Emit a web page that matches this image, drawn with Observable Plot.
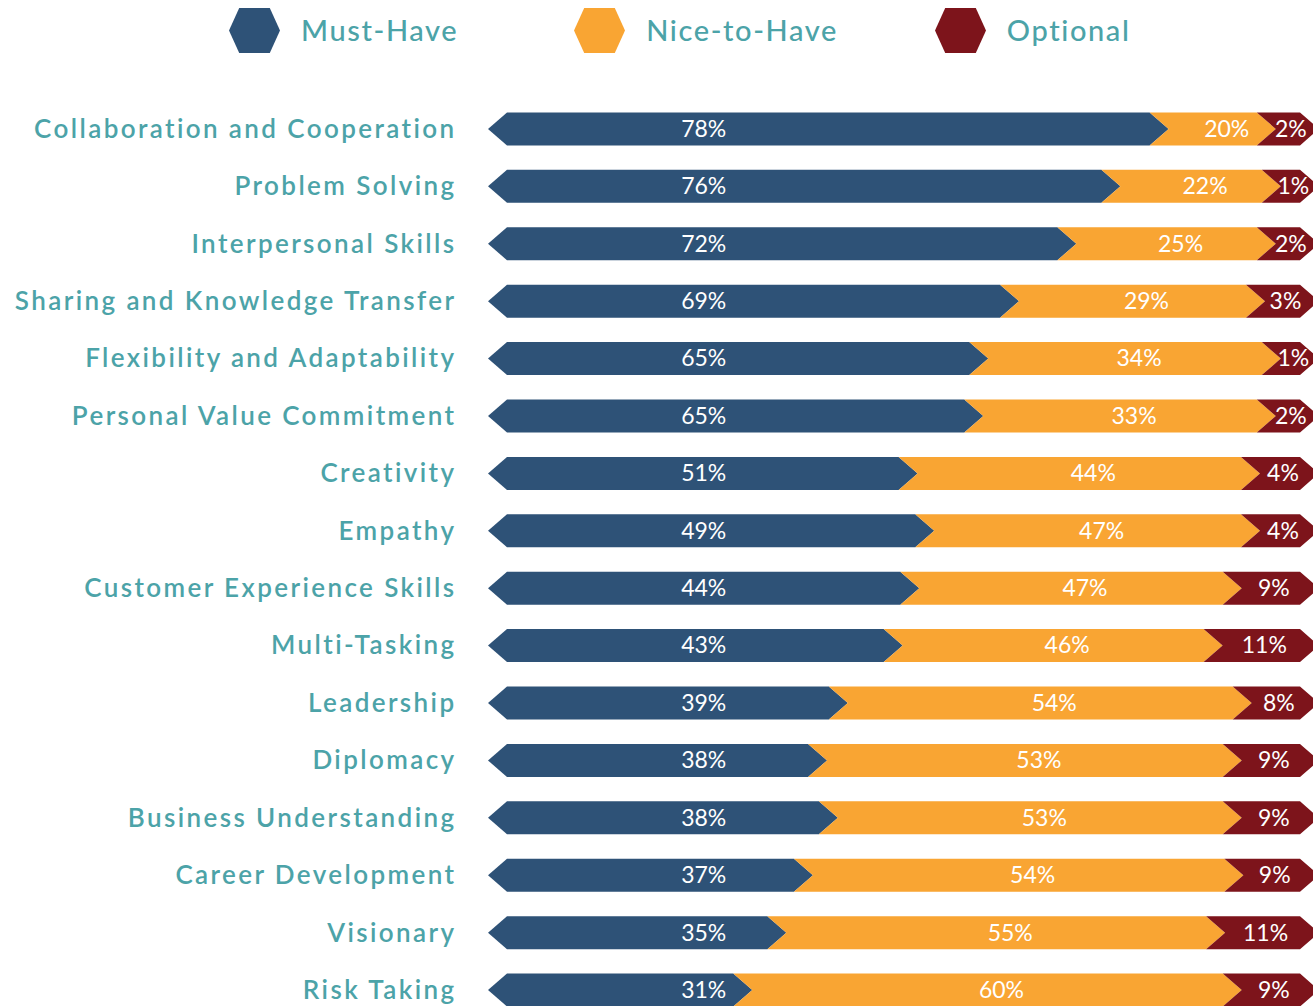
<!DOCTYPE html>
<html>
<head>
<meta charset="utf-8">
<script src="https://cdn.jsdelivr.net/npm/d3@7"></script>
<script src="https://cdn.jsdelivr.net/npm/@observablehq/plot@0.6"></script>
<style>
  html, body { margin: 0; padding: 0; background: #ffffff; }
  body { width: 1313px; overflow: hidden; font-family: Lato, "Noto Sans", sans-serif; }
  #legend { height: 60px; display: flex; align-items: center; padding-left: 229px; box-sizing: border-box; }
  .item { display: flex; align-items: center; }
  .item:nth-child(1) { margin-right: 116px; }
  .item:nth-child(2) { margin-right: 97px; }
  .item svg { display: block; }
  .item span { margin-left: 21px; font-size: 29px; line-height: 1; color: #4ca3a8; letter-spacing: 1.6px; font-weight: 500; position: relative; top: -1px; }
  #chart svg { display: block; }
</style>
</head>
<body>
<div id="legend"></div>
<div id="chart"></div>
<script>
// ---- data ----
const skills = [
  "Collaboration and Cooperation", "Problem Solving", "Interpersonal Skills",
  "Sharing and Knowledge Transfer", "Flexibility and Adaptability", "Personal Value Commitment",
  "Creativity", "Empathy", "Customer Experience Skills", "Multi-Tasking", "Leadership",
  "Diplomacy", "Business Understanding", "Career Development", "Visionary", "Risk Taking"
];
// printed percentages
const mustHave   = [78, 76, 72, 69, 65, 65, 51, 49, 44, 43, 39, 38, 38, 37, 35, 31];
const niceToHave = [20, 22, 25, 29, 34, 33, 44, 47, 47, 46, 54, 53, 53, 54, 55, 60];
const optional   = [2, 1, 2, 3, 1, 2, 4, 4, 9, 11, 8, 9, 9, 9, 11, 9];
// segment boundaries as drawn in the picture (0–100 axis)
const mustHaveEnd   = [81.9, 76.1, 70.8, 63.9, 60.2, 59.6, 51.7, 53.7, 51.9, 49.9, 43.3, 40.8, 42.1, 39.1, 35.9, 31.8];
const niceToHaveEnd = [94.8, 95.4, 94.8, 93.5, 95.4, 94.8, 92.9, 92.9, 90.7, 88.4, 91.9, 90.7, 90.7, 90.9, 88.7, 90.7];
const seriesNames  = ["Must-Have", "Nice-to-Have", "Optional"];
const seriesColors = ["#2e5277", "#f9a533", "#7d141b"];

// ---- legend ----
const legend = d3.select("#legend");
seriesNames.forEach((name, i) => {
  const item = legend.append("div").attr("class", "item");
  const w = 51, h = 45;
  item.append("svg").attr("width", w).attr("height", h)
    .append("polygon")
    .attr("points", [[w * 0.2, 0], [w * 0.8, 0], [w, h / 2], [w * 0.8, h], [w * 0.2, h], [0, h / 2]].join(" "))
    .attr("fill", seriesColors[i]);
  item.append("span").text(name);
});

// ---- segments table ----
const segments = [];
skills.forEach((skill, i) => {
  segments.push({skill, series: 0, x0: 0, x1: mustHaveEnd[i], label: mustHave[i] + "%"});
  segments.push({skill, series: 1, x0: mustHaveEnd[i], x1: niceToHaveEnd[i], label: niceToHave[i] + "%"});
  segments.push({skill, series: 2, x0: niceToHaveEnd[i], x1: 100, label: optional[i] + "%"});
});

const D = 19; // arrow depth in px

function chevrons(a, b) {
  const sc = (b && typeof b.x === "function") ? b : a;
  const x = sc.x, y = sc.y;
  let bw = typeof y.bandwidth === "function" ? y.bandwidth() : (sc.scales && sc.scales.y ? sc.scales.y.bandwidth : 0);
  const g = d3.create("svg:g").attr("aria-label", "chevron bars");
  for (const s of segments) {
    const top = y(s.skill), bot = top + bw, mid = (top + bot) / 2;
    const X0 = x(s.x0), X1 = x(s.x1);
    let pts;
    if (s.series === 0) {
      pts = [[X0 + D, top], [X1 - D, top], [X1, mid], [X1 - D, bot], [X0 + D, bot], [X0, mid]];
    } else {
      pts = [[X0 - D, top], [X1 - D, top], [X1, mid], [X1 - D, bot], [X0 - D, bot], [X0, mid]];
    }
    g.append("polygon")
      .attr("points", pts.map(p => p.join(",")).join(" "))
      .attr("fill", seriesColors[s.series]);
  }
  return g.node();
}

const must = segments.filter(d => d.series === 0);
const nice = segments.filter(d => d.series === 1);
const opt  = segments.filter(d => d.series === 2);

const chart = Plot.plot({
  width: 1313,
  height: 984,
  marginTop: 28,
  marginBottom: 13,
  marginLeft: 0,
  marginRight: 0,
  style: {fontFamily: "Lato, 'Noto Sans', sans-serif", background: "#ffffff", overflow: "hidden"},
  x: {domain: [0, 100], range: [488, 1319], axis: null},
  y: {type: "band", domain: skills, padding: 0.425, round: false, axis: null},
  marks: [
    Plot.text(skills, {x: () => 0, y: d => d, text: d => d, textAnchor: "end", dx: -32,
      fill: "#4ca3a8", fontSize: 26, fontWeight: 600}),
    chevrons,
    Plot.text(must, {x: () => 25.9, y: "skill", text: "label", fill: "white", fontSize: 23}),
    Plot.text(nice, {x: d => (d.x0 + d.x1) / 2, y: "skill", text: "label", fill: "white", fontSize: 23, dx: 4}),
    Plot.text(opt,  {x: d => (d.x0 + d.x1) / 2, y: "skill", text: "label", fill: "white", fontSize: 23, dx: -7})
  ]
});
document.getElementById("chart").appendChild(chart);
// letter spacing for the category labels (first text mark)
const firstText = chart.querySelector('g[aria-label="text"]');
if (firstText) firstText.setAttribute("letter-spacing", "2.4");
</script>
</body>
</html>
